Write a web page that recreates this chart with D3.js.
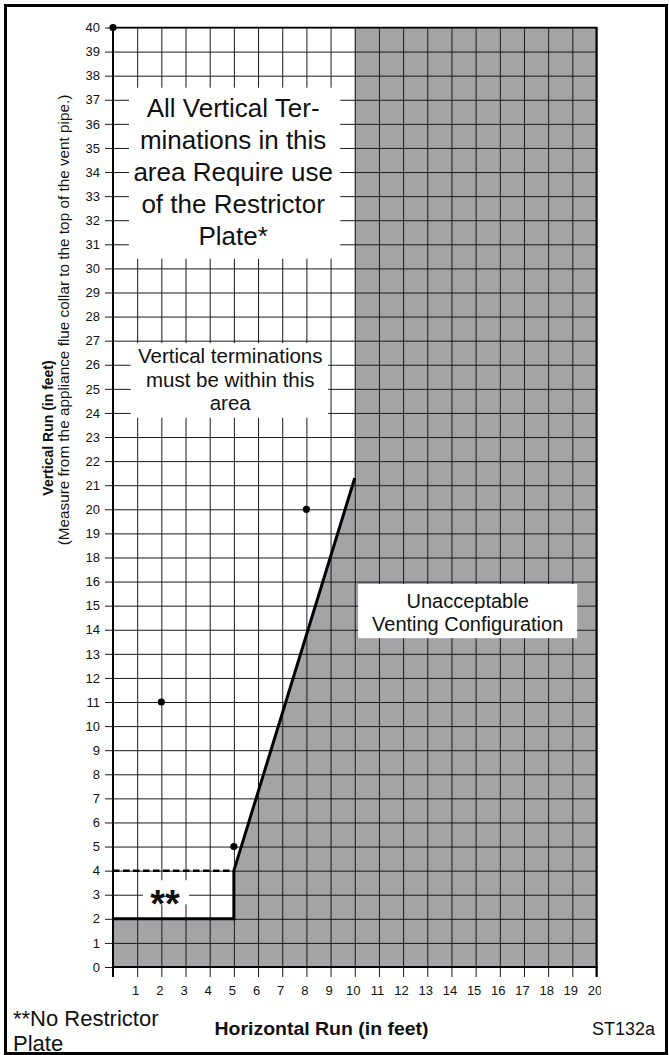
<!DOCTYPE html>
<html>
<head>
<meta charset="utf-8">
<script src="https://cdn.jsdelivr.net/npm/d3@7/dist/d3.min.js"></script>
<style>
  html, body { margin: 0; padding: 0; background: #fff; }
  svg { display: block; font-family: "Liberation Sans", Arial, Helvetica, sans-serif; }
</style>
</head>
<body>
<svg id="chart" width="669" height="1055"></svg>
<script>
// ---------- data ----------
const xTickValues = [1, 2, 3, 4, 5, 6, 7, 8, 9, 10, 11, 12, 13, 14, 15, 16, 17, 18, 19, 20];
const xTickLabels = ["1", "2", "3", "4", "5", "6", "7", "8", "9", "10", "11", "12", "13", "14", "15", "16", "17", "18", "19", "20"];
// the printed scale skips 17
const yTickValues = [0, 1, 2, 3, 4, 5, 6, 7, 8, 9, 10, 11, 12, 13, 14, 15, 16, 18, 19, 20, 21, 22, 23, 24, 25, 26, 27, 28, 29, 30, 31, 32, 33, 34, 35, 36, 37, 38, 39, 40];
const yTickLabels = ["0", "1", "2", "3", "4", "5", "6", "7", "8", "9", "10", "11", "12", "13", "14", "15", "16", "18", "19", "20", "21", "22", "23", "24", "25", "26", "27", "28", "29", "30", "31", "32", "33", "34", "35", "36", "37", "38", "39", "40"];

// boundary of the acceptable area (solid thick line)
const boundaryX = [0, 5, 5, 10];
const boundaryY = [2, 2, 4, 21.3];
// restrictor plate limit (dashed)
const restrictorX = [0, 5];
const restrictorY = [4, 4];
// unacceptable (shaded) region outline
const shadeX = [0, 0, 5, 5, 10, 10, 20, 20];
const shadeY = [0, 2, 2, 4, 21.3, 40, 40, 0];
// reference dots
const dotX = [0, 2, 5, 8];
const dotY = [40, 11, 5, 20];

// annotation texts
const noteTopLines = ["All Vertical Ter-", "minations in this", "area Require use", "of the Restrictor", "Plate*"];
const noteMidLines = ["Vertical terminations", "must be within this", "area"];
const noteRightLines = ["Unacceptable", "Venting Configuration"];
const noteStars = "**";
const footLeftLines = ["**No Restrictor", "Plate"];
const xTitle = "Horizontal Run (in feet)";
const yTitleBold = "Vertical Run (in feet)";
const yTitleNote = "(Measure from the appliance flue collar to the top of the vent pipe.)";
const figCode = "ST132a";

// ---------- layout ----------
const W = 669, H = 1055;
const plotLeft = 113, plotRight = 596.5, plotTop = 27.5, plotBottom = 967;

const svg = d3.select("#chart");

const x = d3.scaleLinear().domain([0, 20]).range([plotLeft, plotRight]);
// grid lines are evenly spaced by printed label; 16 -> 18 spans one grid step
const yIdx = d3.scaleLinear().domain([0, 39]).range([plotBottom, plotTop]);
const y = d3.scaleLinear().domain([0, 16, 18, 40]).range([0, 16, 17, 39].map(yIdx));

const GRAY = "#a4a4a7";

// outer frame
svg.append("rect")
  .attr("x", 5.5).attr("y", 5.5)
  .attr("width", W - 8).attr("height", H - 7)
  .attr("fill", "none").attr("stroke", "#000").attr("stroke-width", 3);

// shaded region
svg.append("path")
  .datum(d3.zip(shadeX, shadeY))
  .attr("d", d3.line().x(d => x(d[0])).y(d => y(d[1])))
  .attr("fill", GRAY).attr("stroke", "none");

// horizontal grid lines (extend left as ticks)
const yAxis = d3.axisLeft(y)
  .tickValues(yTickValues)
  .tickFormat((d, i) => yTickLabels[i])
  .tickSize(plotRight - plotLeft + 8)
  .tickPadding(5);
const gy = svg.append("g")
  .attr("transform", `translate(${plotRight},0)`)
  .call(yAxis);
gy.select(".domain").remove();
gy.selectAll(".tick line").attr("stroke", "#1a1a1a").attr("stroke-width", 1);
gy.selectAll(".tick text")
  .attr("fill", "#111")
  .attr("font-size", 13)
  .attr("font-family", "Liberation Sans, Arial, sans-serif");

// vertical grid lines (extend down as ticks)
const xAxis = d3.axisBottom(x)
  .tickValues(xTickValues)
  .tickFormat((d, i) => xTickLabels[i])
  .tickSize(plotBottom - plotTop + 10)
  .tickPadding(9);
const clip = svg.append("defs").append("clipPath").attr("id", "xlabClip");
clip.append("rect").attr("x", 0).attr("y", 0).attr("width", plotRight + 4.5).attr("height", H);
const gx = svg.append("g")
  .attr("transform", `translate(0,${plotTop})`)
  .attr("clip-path", "url(#xlabClip)")
  .call(xAxis);
gx.select(".domain").remove();
gx.selectAll(".tick line").attr("stroke", "#1a1a1a").attr("stroke-width", 1);
gx.selectAll(".tick text")
  .attr("fill", "#111")
  .attr("font-size", 13)
  .attr("dx", -2)
  .attr("font-family", "Liberation Sans, Arial, sans-serif");

// white label boxes that interrupt the grid
function box(x0, x1, y0, y1) {
  svg.append("rect")
    .attr("x", x(x0)).attr("y", y(y0))
    .attr("width", x(x1) - x(x0)).attr("height", y(y1) - y(y0))
    .attr("fill", "#fff");
}
box(0.66, 9.4, 37.5, 30.4);
box(0.73, 8.9, 26.9, 23.8);
box(10.14, 19.2, 15.9, 13.65);
box(1.24, 3.15, 3.6, 2.6);

function lines(arr, cx, cy, lh, size, weight) {
  const t = svg.append("text")
    .attr("text-anchor", "middle")
    .attr("font-size", size)
    .attr("font-weight", weight || "normal")
    .attr("fill", "#111");
  arr.forEach((s, i) => {
    t.append("tspan").attr("x", cx).attr("y", cy + i * lh).attr("dy", "0.36em").text(s);
  });
  return t;
}
lines(noteTopLines, x(4.97), 108, 32, 26);
lines(noteMidLines, x(4.85), 356, 23.5, 20.5);
lines(noteRightLines, (x(10.14) + x(19.2)) / 2, 600.5, 23.5, 20);

// stars
svg.append("text")
  .attr("x", x(2.15)).attr("y", y(3) + 22)
  .attr("text-anchor", "middle")
  .attr("font-size", 38).attr("font-weight", "bold")
  .attr("fill", "#111")
  .text(noteStars);

// restrictor dashed line
svg.append("path")
  .datum(d3.zip(restrictorX, restrictorY))
  .attr("d", d3.line().x(d => x(d[0])).y(d => y(d[1])))
  .attr("fill", "none").attr("stroke", "#000")
  .attr("stroke-width", 2.5).attr("stroke-dasharray", "6.5,3.5");

// boundary
svg.append("path")
  .datum(d3.zip(boundaryX, boundaryY))
  .attr("d", d3.line().x(d => x(d[0])).y(d => y(d[1])))
  .attr("fill", "none").attr("stroke", "#000")
  .attr("stroke-width", 3).attr("stroke-linejoin", "miter");

// plot frame: left axis, bottom, top, right
svg.append("line").attr("x1", x(0)).attr("x2", x(0)).attr("y1", y(40)).attr("y2", plotBottom + 10)
  .attr("stroke", "#000").attr("stroke-width", 2);
svg.append("line").attr("x1", x(0)).attr("x2", x(20) + 1).attr("y1", y(0)).attr("y2", y(0))
  .attr("stroke", "#000").attr("stroke-width", 2.2);
svg.append("line").attr("x1", x(0)).attr("x2", x(20) + 1).attr("y1", y(40)).attr("y2", y(40))
  .attr("stroke", "#000").attr("stroke-width", 1.5);
svg.append("line").attr("x1", x(20)).attr("x2", x(20)).attr("y1", y(40)).attr("y2", plotBottom + 10)
  .attr("stroke", "#000").attr("stroke-width", 2);

// dots
svg.selectAll("circle.dot")
  .data(d3.zip(dotX, dotY))
  .join("circle")
  .attr("class", "dot")
  .attr("cx", d => x(d[0])).attr("cy", d => y(d[1]))
  .attr("r", 3.6).attr("fill", "#000");

// axis titles
svg.append("text")
  .attr("x", 321.5).attr("y", 1029).attr("dy", "0.36em")
  .attr("text-anchor", "middle")
  .attr("font-size", 18).attr("font-weight", "bold")
  .attr("textLength", 214).attr("lengthAdjust", "spacingAndGlyphs")
  .attr("fill", "#111")
  .text(xTitle);

svg.append("text")
  .attr("transform", "translate(47.5,428) rotate(-90)")
  .attr("dy", "0.36em")
  .attr("text-anchor", "middle")
  .attr("font-size", 14).attr("font-weight", "bold")
  .attr("fill", "#111")
  .text(yTitleBold);
svg.append("text")
  .attr("transform", "translate(63.5,320) rotate(-90)")
  .attr("dy", "0.36em")
  .attr("text-anchor", "middle")
  .attr("font-size", 15.3)
  .attr("fill", "#111")
  .text(yTitleNote);

// footnote and figure code
const foot = svg.append("text").attr("font-size", 22).attr("fill", "#111");
footLeftLines.forEach((s, i) => {
  foot.append("tspan").attr("x", 13).attr("y", 1018 + i * 25).attr("dy", "0.36em").text(s);
});
svg.append("text")
  .attr("x", 592).attr("y", 1029).attr("dy", "0.36em")
  .attr("font-size", 18).attr("fill", "#111")
  .text(figCode);
</script>
</body>
</html>
